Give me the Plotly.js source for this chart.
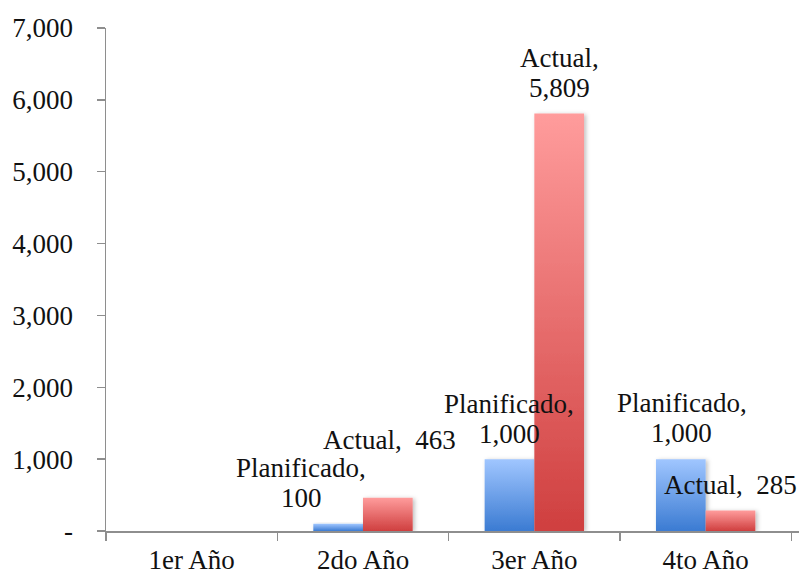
<!DOCTYPE html>
<html>
<head>
<meta charset="utf-8">
<script src="https://cdn.plot.ly/plotly-3.0.1.min.js"></script>
<style>
  html, body { margin: 0; padding: 0; background: #ffffff; }
  #chart { width: 804px; height: 577px; }
</style>
</head>
<body>
<div id="chart"></div>
<script>
// ---- Data ----
const categories = ["1er Año", "2do Año", "3er Año", "4to Año"];
const seriesNames = ["Planificado", "Actual"];
const plannedValues = [null, 100, 1000, 1000];
const actualValues = [null, 463, 5809, 285];
const yTickValues = [0, 1000, 2000, 3000, 4000, 5000, 6000, 7000];
const yTickLabels = ["-", "1,000", "2,000", "3,000", "4,000", "5,000", "6,000", "7,000"];

// ---- Label layout (style/position only) ----
// mode: "two" = name on one line, value below; "one" = "name,  value" on one line
// dx: horizontal pixel shift; lift: pixel distance of (last) line centre above bar top
const labelLayout = {
  Planificado: [null, {mode: "two", dx: -37, lift: 26}, {mode: "two", dx: 0, lift: 25}, {mode: "two", dx: 1, lift: 26}],
  Actual:      [null, {mode: "one", dx: 2, lift: 58}, {mode: "two", dx: 0, lift: 26}, {mode: "one", dx: 0, lift: 26}]
};
const lineStep = 30;

const FONT = "Liberation Serif, Times New Roman, serif";
const FSIZE = 27;
const fmt = v => v.toLocaleString("en-US");

const seriesData = [plannedValues, actualValues];
const barColors = ["#6fa0e8", "#e86a6a"];
const bargap = 0.42;
const offsets = [-(1 - bargap) / 4, (1 - bargap) / 4];

const traces = seriesNames.map((name, s) => ({
  type: "bar",
  name: name,
  x: categories,
  y: seriesData[s],
  marker: {color: barColors[s], line: {width: 0}},
  hoverinfo: "none"
}));

const annotations = [];
seriesNames.forEach((name, s) => {
  seriesData[s].forEach((v, i) => {
    const cfg = labelLayout[name][i];
    if (v === null || !cfg) return;
    const base = {x: i + offsets[s], y: v, xref: "x", yref: "y", showarrow: false,
      xanchor: "center", yanchor: "middle", xshift: cfg.dx,
      font: {family: FONT, size: FSIZE, color: "#111111"}};
    if (cfg.mode === "two") {
      annotations.push(Object.assign({}, base, {text: name + ",", yshift: cfg.lift + lineStep}));
      annotations.push(Object.assign({}, base, {text: fmt(v), yshift: cfg.lift}));
    } else {
      annotations.push(Object.assign({}, base, {text: name + ",  " + fmt(v), yshift: cfg.lift}));
    }
  });
});

const axisColor = "#8e8e8e";
const layout = {
  width: 804, height: 577,
  margin: {l: 106, r: 5, t: 28, b: 46, pad: 0},
  paper_bgcolor: "#ffffff", plot_bgcolor: "#ffffff",
  showlegend: false,
  barmode: "group",
  bargap: bargap,
  bargroupgap: 0,
  font: {family: FONT, size: FSIZE, color: "#111111"},
  xaxis: {
    type: "category",
    showgrid: false, zeroline: false,
    showline: true, linecolor: axisColor, linewidth: 1.5,
    ticks: "outside", ticklen: 8, tickcolor: axisColor, tickwidth: 1.5,
    tickson: "boundaries",
    ticklabelstandoff: 4,
    tickfont: {family: FONT, size: FSIZE, color: "#111111"},
    fixedrange: true
  },
  yaxis: {
    range: [0, 7000],
    tickvals: yTickValues, ticktext: yTickLabels,
    showgrid: false, zeroline: false,
    showline: true, linecolor: axisColor, linewidth: 1.5,
    ticks: "outside", ticklen: 8, tickcolor: axisColor, tickwidth: 1.5,
    ticklabelstandoff: 18,
    tickfont: {family: FONT, size: FSIZE, color: "#111111"},
    fixedrange: true
  },
  annotations: annotations
};

Plotly.newPlot("chart", traces, layout, {displayModeBar: false, staticPlot: true}).then(gd => {
  const svg = gd.querySelector("svg.main-svg");
  const ns = "http://www.w3.org/2000/svg";
  let defs = svg.querySelector("defs");
  if (!defs) { defs = document.createElementNS(ns, "defs"); svg.insertBefore(defs, svg.firstChild); }
  const grads = [["gradPlan", "#a0c6ff", "#3b7bd2"], ["gradAct", "#ff9c9c", "#cf3f3f"]];
  grads.forEach(([id, top, bottom]) => {
    const g = document.createElementNS(ns, "linearGradient");
    g.setAttribute("id", id);
    g.setAttribute("x1", "0"); g.setAttribute("y1", "0");
    g.setAttribute("x2", "0"); g.setAttribute("y2", "1");
    [[0, top], [1, bottom]].forEach(([o, c]) => {
      const st = document.createElementNS(ns, "stop");
      st.setAttribute("offset", o);
      st.setAttribute("stop-color", c);
      g.appendChild(st);
    });
    defs.appendChild(g);
  });
  const f = document.createElementNS(ns, "filter");
  f.setAttribute("id", "barShadow");
  f.setAttribute("x", "-20%"); f.setAttribute("y", "-20%");
  f.setAttribute("width", "150%"); f.setAttribute("height", "150%");
  const ds = document.createElementNS(ns, "feDropShadow");
  ds.setAttribute("dx", "2"); ds.setAttribute("dy", "1");
  ds.setAttribute("stdDeviation", "2"); ds.setAttribute("flood-opacity", "0.25");
  f.appendChild(ds);
  defs.appendChild(f);
  const traceGroups = gd.querySelectorAll(".barlayer .trace");
  traceGroups.forEach((tg, s) => {
    tg.querySelectorAll("path").forEach(p => {
      p.style.fill = "url(#" + grads[s][0] + ")";
      p.setAttribute("filter", "url(#barShadow)");
    });
  });
});
</script>
</body>
</html>
